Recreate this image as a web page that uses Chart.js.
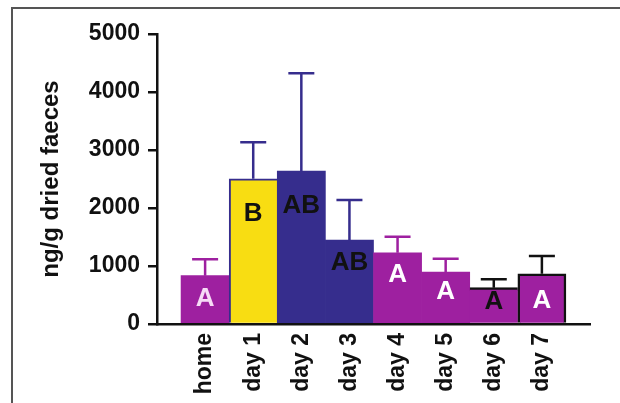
<!DOCTYPE html>
<html>
<head>
<meta charset="utf-8">
<script src="https://cdn.jsdelivr.net/npm/chart.js@4"></script>
<style>
  html, body { margin: 0; padding: 0; background: #fff; }
  #wrap { position: relative; width: 620px; height: 403px; overflow: hidden; }
  /* grey frame, only top and left edges are visible */
  #frame { position: absolute; left: 11px; top: 7px; width: 700px; height: 500px;
           border-left: 2px solid #555; border-top: 2px solid #555; }
  #c { position: absolute; left: 0; top: 0; }
</style>
</head>
<body>
<div id="wrap">
  <div id="frame"></div>
  <canvas id="c" width="620" height="403"></canvas>
</div>
<script>
// ---- data ----
const categories = ['home', 'day 1', 'day 2', 'day 3', 'day 4', 'day 5', 'day 6', 'day 7'];
const means      = [833, 2505, 2638, 1448, 1229, 897, 626, 867];
const sems       = [283, 628, 1684, 690, 276, 229, 145, 305];
const groups     = ['A', 'B', 'AB', 'AB', 'A', 'A', 'A', 'A'];
const groupAt    = [430, 1900, 2040, 1055, 850, 555, 380, 400];   // value where the letter sits
const yTicks     = [0, 1000, 2000, 3000, 4000, 5000];

// ---- styles ----
const PURPLE = '#9e20a0', YELLOW = '#f8dd12', NAVY = '#362d8d', INK = '#111';
const barColors    = [PURPLE, YELLOW, NAVY, NAVY, PURPLE, PURPLE, PURPLE, PURPLE];
const barBorderCol = [PURPLE, NAVY, NAVY, NAVY, PURPLE, PURPLE, INK, INK];
const barBorders   = [0, {top: 2, left: 2}, 0, 0, 0, 0, {top: 2.5}, {top: 2.5, left: 2.5, right: 2.5}];
const errColors    = [PURPLE, NAVY, NAVY, NAVY, PURPLE, PURPLE, INK, INK];
const letterColors = ['#f6dcf6', INK, INK, INK, '#fff', '#fff', INK, '#fff'];
const FONT = "'Liberation Sans', Arial, Helvetica, sans-serif";

// error bars + group letters
const extras = {
  id: 'extras',
  afterDatasetsDraw(chart) {
    const {ctx, scales: {x, y}} = chart;
    ctx.save();
    means.forEach((m, i) => {
      const px = x.getPixelForValue(i);
      const top = y.getPixelForValue(m);
      const hi = y.getPixelForValue(m + sems[i]);
      ctx.strokeStyle = errColors[i];
      ctx.lineWidth = 2.5;
      ctx.beginPath();
      ctx.moveTo(px, top);
      ctx.lineTo(px, hi);
      ctx.moveTo(px - 13, hi);
      ctx.lineTo(px + 13, hi);
      ctx.stroke();
    });
    ctx.font = 'bold 26px ' + FONT;
    ctx.textAlign = 'center';
    ctx.textBaseline = 'middle';
    groups.forEach((g, i) => {
      ctx.fillStyle = letterColors[i];
      ctx.fillText(g, x.getPixelForValue(i), y.getPixelForValue(groupAt[i]));
    });
    ctx.restore();
  }
};

new Chart(document.getElementById('c'), {
  type: 'bar',
  data: {
    labels: categories.map((c, i) => i),
    datasets: [{
      data: means,
      backgroundColor: barColors,
      borderColor: barBorderCol,
      borderWidth: ctx => barBorders[ctx.dataIndex],
      barPercentage: 1,
      categoryPercentage: 1
    }]
  },
  options: {
    responsive: false,
    animation: false,
    layout: { padding: { left: 39, top: 34, right: 30, bottom: 0 } },
    plugins: { legend: { display: false }, tooltip: { enabled: false } },
    scales: {
      x: {
        type: 'linear',
        offset: false,
        min: -1,
        max: 8,
        afterFit: s => { s.height = 79; s.paddingLeft = 0; s.paddingRight = 0; },
        grid: { display: false, offset: false, drawTicks: false, tickLength: 0 },
        border: { display: true, color: INK, width: 2.5 },
        ticks: {
          stepSize: 1,
          autoSkip: false,
          minRotation: 90,
          maxRotation: 90,
          padding: 9,
          color: INK,
          font: { family: FONT, size: 23, weight: 'bold' },
          callback: v => categories[v] || ''
        }
      },
      y: {
        min: 0,
        max: 5000,
        afterFit: s => { s.width = 157 - 39; },
        afterBuildTicks: s => { s.ticks = yTicks.map(v => ({value: v})); },
        grid: { drawOnChartArea: false, drawTicks: true, tickLength: 9, color: INK, lineWidth: 2.5 },
        border: { display: true, color: INK, width: 2.5 },
        ticks: {
          padding: 8,
          color: INK,
          font: { family: FONT, size: 23, weight: 'bold' },
          callback: v => String(v)
        },
        title: {
          display: true,
          text: 'ng/g dried faeces',
          color: INK,
          padding: 0,
          font: { family: FONT, size: 24, weight: 'bold', lineHeight: 1 }
        }
      }
    }
  },
  plugins: [extras]
});
</script>
</body>
</html>
